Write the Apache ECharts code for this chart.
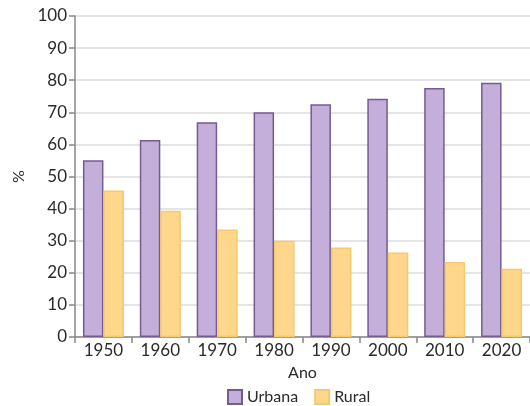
<!DOCTYPE html>
<html>
<head>
<meta charset="utf-8">
<script src="https://cdn.jsdelivr.net/npm/echarts@6/dist/echarts.min.js"></script>
<style>html,body{margin:0;padding:0;background:#fff;}#c{width:530px;height:406px;}</style>
</head>
<body>
<div id="c"></div>
<script>
const categories = ['1950','1960','1970','1980','1990','2000','2010','2020'];
const urbana = [55.1, 61.4, 66.9, 70.0, 72.5, 74.2, 77.6, 79.2];
const rural = [45.6, 39.3, 33.5, 30.0, 27.9, 26.3, 23.4, 21.3];
const yTicks = [0,10,20,30,40,50,60,70,80,90,100];

const chart = echarts.init(document.getElementById('c'), null, {renderer:'canvas'});
const font = 'Lato, "Open Sans", sans-serif';
chart.setOption({
  animation: false,
  textStyle: {fontFamily: font},
  legend: {
    data: ['Urbana','Rural'],
    left: 222, top: 384,
    itemWidth: 14, itemHeight: 14, itemGap: 16,
    textStyle: {fontSize: 16, color: '#2a2a2a', fontFamily: font},
    icon: 'rect'
  },
  grid: {left: 75, top: 16, width: 458, height: 321, containLabel: false},
  xAxis: {
    type: 'category', data: categories,
    name: 'Ano', nameLocation: 'middle', nameGap: 28,
    nameTextStyle: {fontSize: 16, color: '#2a2a2a'},
    axisLine: {lineStyle: {color: '#888', width: 1.5}},
    axisTick: {show: true, alignWithLabel: false, length: 6, lineStyle: {color: '#888', width: 1.5}},
    axisLabel: {fontSize: 17, color: '#2a2a2a', margin: 5}
  },
  yAxis: {
    type: 'value', min: 0, max: 100, interval: 10,
    name: '%', nameLocation: 'middle', nameGap: 46, nameRotate: 90,
    nameTextStyle: {fontSize: 16, color: '#2a2a2a'},
    axisLine: {show: true, lineStyle: {color: '#888', width: 1.5}},
    axisTick: {show: true, length: 6, lineStyle: {color: '#888', width: 1.5}},
    axisLabel: {fontSize: 17, color: '#2a2a2a', margin: 8,
      formatter: v => yTicks.includes(v) ? String(v) : ''},
    splitLine: {lineStyle: {color: '#dcdcdc', width: 1.5}}
  },
  series: [
    {name: 'Urbana', type: 'bar', data: urbana, barWidth: 20.5, barGap: '0%',
     itemStyle: {color: '#c3afd9', borderColor: '#735c93', borderWidth: 1.5}},
    {name: 'Rural', type: 'bar', data: rural, barWidth: 20.5,
     itemStyle: {color: '#fed78c', borderColor: '#f6c96c', borderWidth: 1.5}}
  ]
});
</script>
</body>
</html>
